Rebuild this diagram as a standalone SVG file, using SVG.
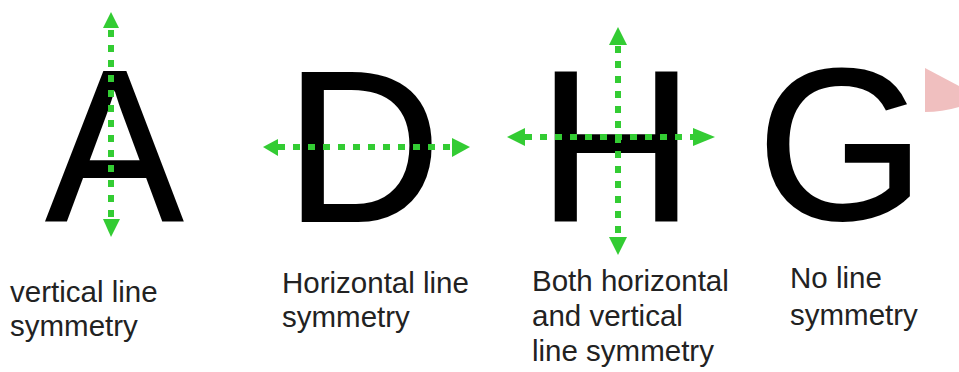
<svg xmlns="http://www.w3.org/2000/svg" width="959" height="372" viewBox="0 0 959 372">
<style>
.big{font-family:"Liberation Sans",Arial,sans-serif;font-size:216px;fill:#000;stroke:#000;stroke-width:2}
.lbl{font-family:"Liberation Sans",Arial,sans-serif;font-size:29.5px;fill:#222}
.axis{stroke:#33cc33;stroke-width:6;stroke-dasharray:7 8;fill:none}
.head{fill:#33cc33}
</style>
<rect width="959" height="372" fill="#fff"/>
<g id="letter-A"><text class="big" x="0" y="0" transform="translate(46,220) scale(0.95,1)">A</text></g>
<g id="letter-D"><text class="big" x="285" y="221">D</text></g>
<g id="letter-H"><text class="big" x="538" y="221">H</text></g>
<g id="letter-G"><text class="big" x="757" y="219">G</text></g>
<g id="connectors">
<line class="axis" x1="111" y1="30" x2="111" y2="219"/>
<polygon class="head" points="111,12 103,28 119,28"/>
<polygon class="head" points="111,237 103,219 120,219"/>
<line class="axis" x1="278" y1="147" x2="452" y2="147"/>
<polygon class="head" points="263,147 278,139 278,156"/>
<polygon class="head" points="470,147 452,138 452,157"/>
<line class="axis" x1="618" y1="46" x2="618" y2="237"/>
<polygon class="head" points="618,27 609,45 627,45"/>
<polygon class="head" points="618,255 609,237 627,237"/>
<line class="axis" x1="525" y1="137" x2="693" y2="137"/>
<polygon class="head" points="507,137 525,128 525,146"/>
<polygon class="head" points="715,137 693,128 693,146"/>
</g>
<path d="M925,68 L959,86 L959,107 Q942,112 925,112 Z" fill="#f0bfbf"/>
<g id="label-A"><text class="lbl" x="10" y="302">vertical line</text><text class="lbl" x="10" y="336">symmetry</text></g>
<g id="label-D"><text class="lbl" x="282" y="293">Horizontal line</text><text class="lbl" x="282" y="327">symmetry</text></g>
<g id="label-H"><text class="lbl" x="532" y="291">Both horizontal</text><text class="lbl" x="532" y="326">and vertical</text><text class="lbl" x="532" y="361">line symmetry</text></g>
<g id="label-G"><text class="lbl" x="790" y="288">No line</text><text class="lbl" x="790" y="325">symmetry</text></g>
</svg>
